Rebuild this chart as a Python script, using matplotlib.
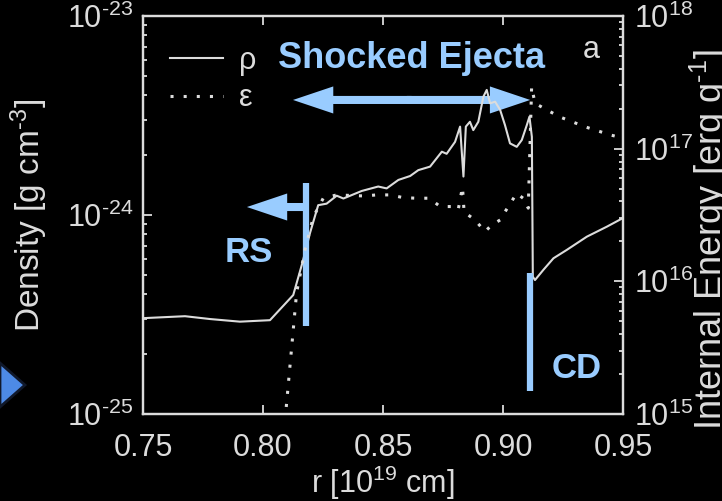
import matplotlib
matplotlib.use('Agg')
import numpy as np
import matplotlib.pyplot as plt
import matplotlib.transforms as mtransforms
from matplotlib.patches import FancyArrowPatch, Polygon

plt.rcParams['font.family'] = ['Liberation Sans', 'DejaVu Sans']
plt.rcParams['mathtext.fontset'] = 'custom'
plt.rcParams['mathtext.rm'] = 'Liberation Sans'
plt.rcParams['mathtext.default'] = 'regular'

# density profile, r in 1e19 cm
r_rho = [0.7500, 0.7675, 0.7779, 0.7904, 0.8029, 0.8126, 0.8164, 0.8196,
         0.8230, 0.8265, 0.8307, 0.8335, 0.8411, 0.8480, 0.8515, 0.8564,
         0.8613, 0.8647, 0.8696, 0.8745, 0.8765, 0.8800, 0.8821, 0.8835,
         0.8845, 0.8862, 0.8876, 0.8897, 0.8918, 0.8932, 0.8946, 0.8967,
         0.8988, 0.9008, 0.9029, 0.9057, 0.9078, 0.9099, 0.9110, 0.9120,
         0.9124, 0.9133, 0.9168, 0.9210, 0.9265, 0.9349, 0.9432, 0.9500]
rho = [3.03e-25, 3.10e-25, 3.00e-25, 2.91e-25, 2.96e-25, 3.96e-25, 5.74e-25, 8.13e-25,
       1.12e-24, 1.14e-24, 1.25e-24, 1.21e-24, 1.32e-24, 1.39e-24, 1.36e-24, 1.50e-24,
       1.57e-24, 1.68e-24, 1.75e-24, 2.08e-24, 2.03e-24, 2.33e-24, 2.78e-24, 1.56e-24,
       2.78e-24, 2.94e-24, 2.67e-24, 2.94e-24, 3.93e-24, 4.25e-24, 3.64e-24, 3.71e-24,
       3.37e-24, 2.83e-24, 2.29e-24, 2.20e-24, 2.38e-24, 2.83e-24, 3.12e-24, 2.47e-24,
       4.90e-25, 4.71e-25, 5.30e-25, 6.06e-25, 6.67e-25, 7.78e-25, 8.73e-25, 9.66e-25]

# specific internal energy
r_eps = [0.8092, 0.8140, 0.8175, 0.8210, 0.8251, 0.8307, 0.8418, 0.8474,
         0.8529, 0.8585, 0.8640, 0.8693, 0.8738, 0.8786, 0.8813, 0.8831,
         0.8838, 0.8855, 0.8883, 0.8925, 0.8953, 0.8988, 0.9013, 0.9057,
         0.9092, 0.9105, 0.9119, 0.9133, 0.9182, 0.9238, 0.9286, 0.9342,
         0.9390, 0.9446, 0.9500]
eps = [9.0e14, 8.2e15, 1.73e16, 3.07e16, 4.23e16, 4.48e16, 4.40e16, 4.48e16,
       4.48e16, 4.27e16, 4.23e16, 4.23e16, 3.66e16, 3.66e16, 3.45e16, 5.14e16,
       3.27e16, 3.16e16, 2.90e16, 2.37e16, 2.66e16, 2.90e16, 3.45e16, 4.61e16,
       4.11e16, 3.56e16, 2.93e17, 2.20e17, 1.96e17, 1.73e17, 1.60e17, 1.46e17,
       1.37e17, 1.27e17, 1.20e17]

# reverse shock / contact discontinuity
r_rs = 0.8179
r_cd = 0.9113
r_ej_left = 0.8125

fg = '#dcdcdc'
blue = '#99ccff'

def pow10(v, pos):
    return '10$^{\\text{%d}}$' % round(np.log10(v))

fig = plt.figure(figsize=(7.22, 5.01), dpi=100, facecolor='black')
ax = fig.add_axes([0.198, 0.1737, 0.665, 0.7944])
ax.set_facecolor('black')
ax2 = ax.twinx()

l1, = ax.plot(r_rho, rho, color=fg, lw=1.5, label='ρ')
l2, = ax2.plot(r_eps, eps, color=fg, lw=2.2, ls=(0, (1, 3.3)), label='ε')

ax.set_xlim(0.75, 0.95)
ax.set_yscale('log')
ax.set_ylim(1e-25, 1e-23)
ax2.set_yscale('log')
ax2.set_ylim(1e15, 1e18)
ax.set_xticks([0.75, 0.80, 0.85, 0.90, 0.95])
ax.xaxis.set_major_formatter(plt.FormatStrFormatter('%.2f'))
ax.yaxis.set_major_formatter(plt.FuncFormatter(pow10))
ax2.yaxis.set_major_formatter(plt.FuncFormatter(pow10))

for a in (ax, ax2):
    for s in a.spines.values():
        s.set_color(fg)
        s.set_linewidth(1.6)
    a.tick_params(which='both', direction='in', colors=fg, width=1.3)
    a.tick_params(which='major', length=6.5, labelsize=22)
    a.tick_params(which='minor', length=3)
ax.tick_params(axis='x', top=True, pad=14)
ax.tick_params(axis='y', right=False, pad=7)
ax2.tick_params(axis='y', left=False, pad=8)

ax.set_xlabel('r [10$^{19}$ cm]', fontsize=22, color=fg)
ax.xaxis.set_label_coords(0.5, -0.125)
ax.set_ylabel('Density [g cm$^{\\text{-3}}$]', fontsize=24, color=fg)
ax.yaxis.set_label_coords(-0.194, 0.5)
ax2.set_ylabel('Internal Energy [erg g$^{\\text{-1}}$]', fontsize=26, color=fg)
ax2.yaxis.set_label_coords(1.134, 0.437)

ax.legend(handles=[l1, l2], loc='upper left', bbox_to_anchor=(0.056, 0.925),
          frameon=False, fontsize=22, handlelength=1.75, handletextpad=0.5,
          labelspacing=0.25, borderpad=0, borderaxespad=0, labelcolor=fg)

# shock markers: x in data, y in axes fraction
trans = mtransforms.blended_transform_factory(ax.transData, ax.transAxes)
ax.plot([r_rs, r_rs], [0.221, 0.580], transform=trans, color=blue, lw=4.5,
        solid_capstyle='butt')
ax.plot([r_cd, r_cd], [0.058, 0.354], transform=trans, color=blue, lw=4.5,
        solid_capstyle='butt')

def arrow(x0, x1, y):
    p = FancyArrowPatch((x0, y), (x1, y), transform=trans, color=blue, lw=0,
                        arrowstyle='simple,head_length=29,head_width=19.5,tail_width=5.8',
                        mutation_scale=1, shrinkA=0, shrinkB=0)
    ax.add_patch(p)

arrow(r_rs, 0.7933, 0.520)
mid = (r_ej_left + r_cd) / 2
arrow(mid, r_ej_left, 0.789)
arrow(mid - 0.002, r_cd, 0.789)

ax.text(0.8617, 0.869, 'Shocked Ejecta', transform=trans, ha='center',
        va='baseline', fontsize=26, fontweight='bold', color=blue)
ax.text(0.7942, 0.382, 'RS', transform=trans, ha='center', va='baseline',
        fontsize=25, fontweight='bold', color=blue)
ax.text(0.9308, 0.090, 'CD', transform=trans, ha='center', va='baseline',
        fontsize=25, fontweight='bold', color=blue)
ax.text(0.9367, 0.894, 'a', transform=trans, ha='center', va='baseline',
        fontsize=22, color=fg)

# slide arrow at the left edge
fig.add_artist(Polygon([(0, 0.2754), (0.0346, 0.2315), (0, 0.1876)],
                       closed=True, transform=fig.transFigure,
                       facecolor='#4d8ae6', edgecolor='#10182a', lw=2))

fig.savefig('out.png', dpi=100, facecolor='black')
